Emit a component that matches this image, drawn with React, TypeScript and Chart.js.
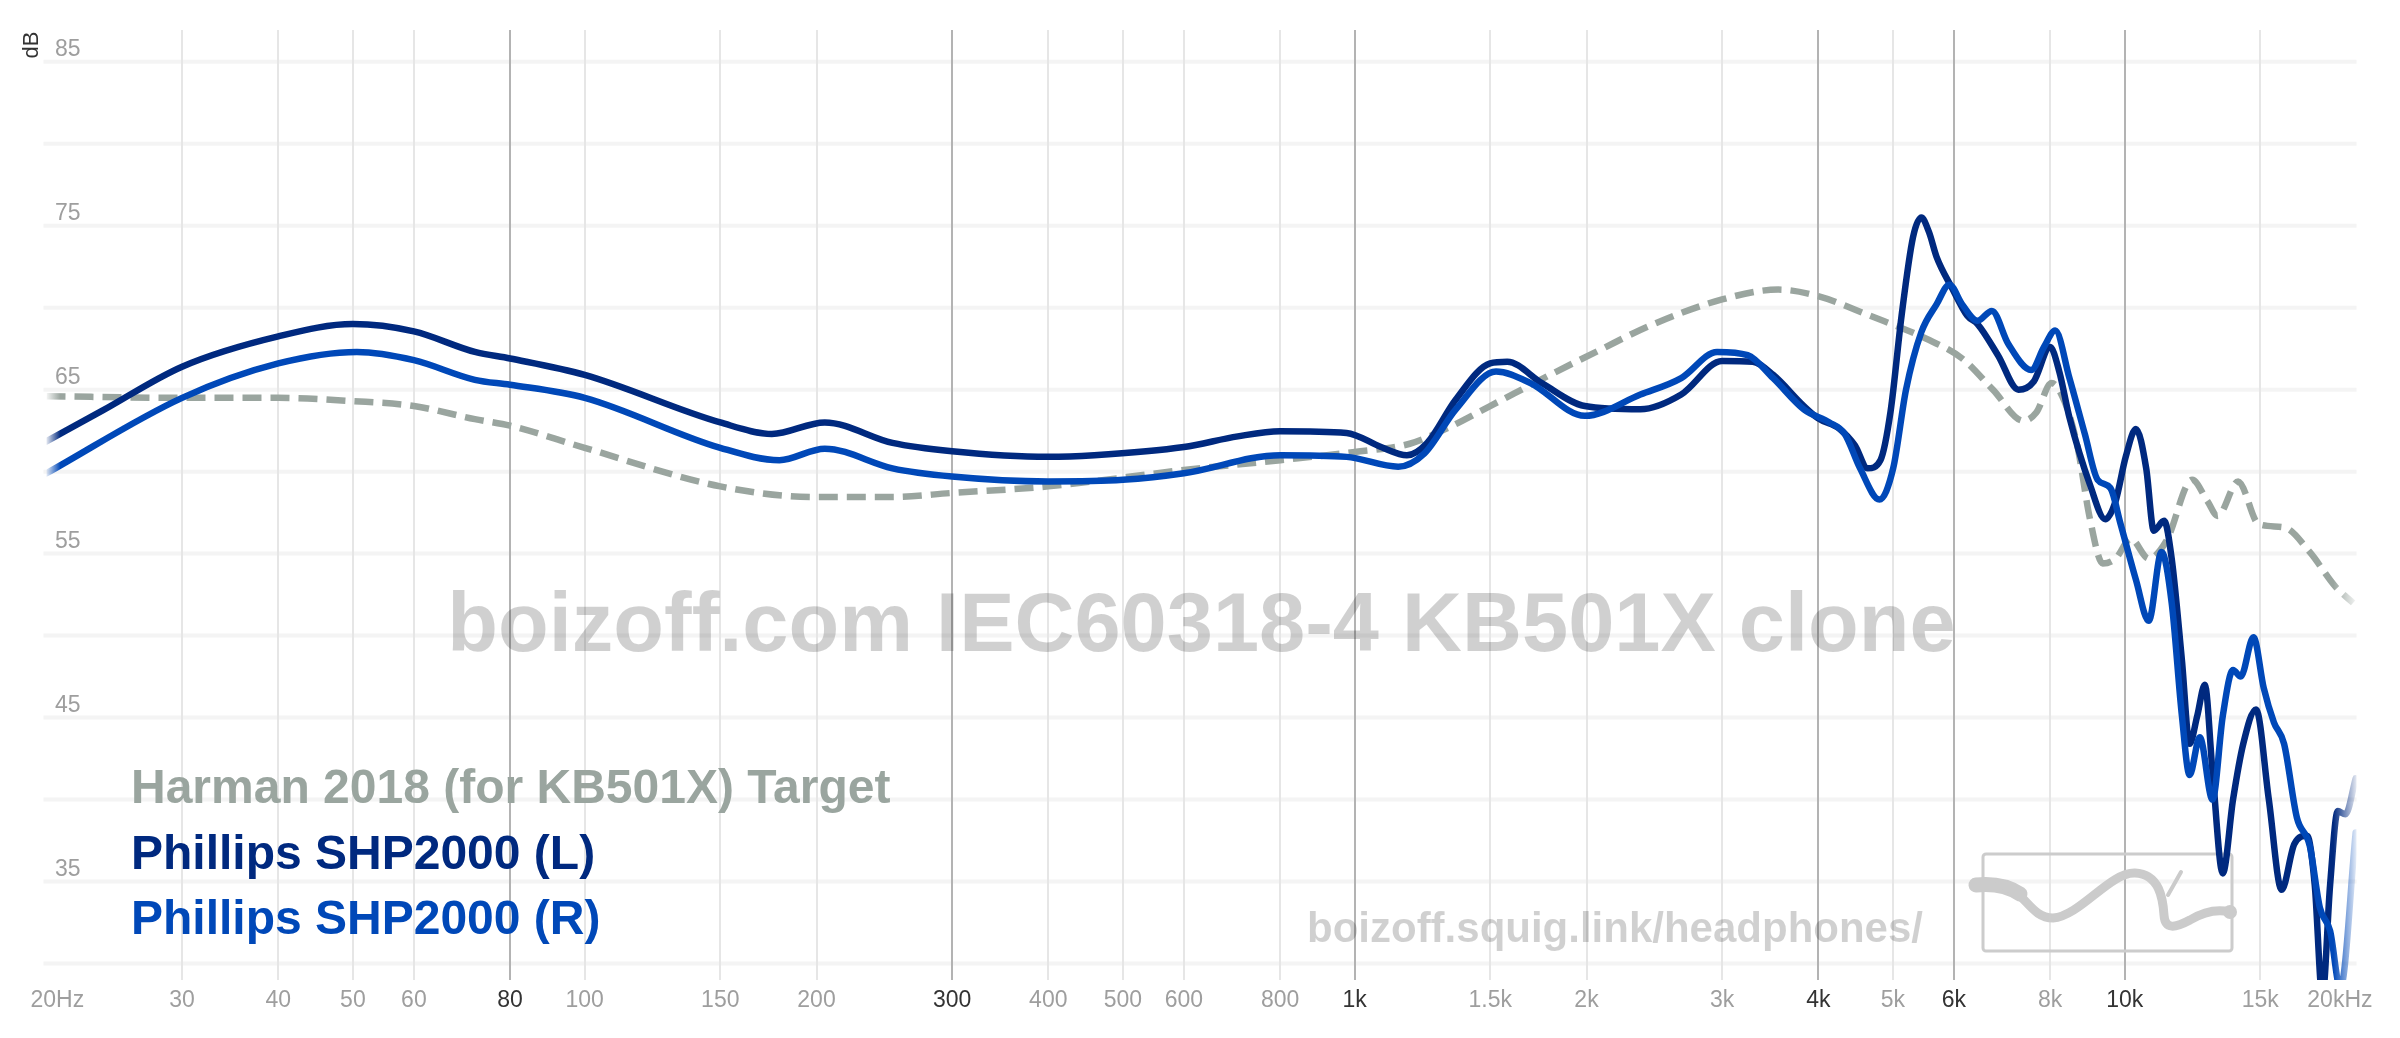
import { useEffect, useRef } from 'react';
import { Chart, registerables } from 'chart.js';

Chart.register(...registerables);

// Harman 2018 (for KB501X) target
const freqTarget = [20, 30, 40, 50, 60, 72, 80, 100, 150, 200, 251, 300, 400, 600, 801, 1000, 1179, 1307, 1499, 1811, 2078, 2417, 3000, 3549, 3998, 4672, 5527, 6151, 6742, 7389, 7677, 8037, 8348, 8676, 9014, 9365, 9730, 10185, 10745, 11335, 12234, 12806, 13205, 14039, 14925, 16106, 17386, 18766, 19799];
const dbTarget = [64.6, 64.5, 64.5, 64.3, 64.0, 63.2, 62.8, 61.45, 59.1, 58.45, 58.45, 58.7, 59.1, 60.1, 60.7, 61.2, 61.7, 62.56, 64.0, 66.0, 67.4, 68.9, 70.5, 71.1, 70.7, 69.5, 68.1, 66.9, 65.0, 63.1, 63.6, 65.4, 64.3, 61.6, 57.1, 54.4, 54.7, 55.9, 54.7, 55.8, 59.5, 58.2, 57.3, 59.4, 56.8, 56.6, 55.1, 53.0, 52.0];

// Phillips SHP2000 left channel
const freqL = [20, 23.6, 30, 40, 50, 60, 72, 80, 100, 150, 175, 205, 251, 300, 400, 459, 600, 705, 800, 976, 1082, 1169, 1242, 1353, 1499, 1578, 1750, 1990, 2350, 2655, 3000, 3288, 3495, 3831, 3998, 4263, 4463, 4636, 4817, 4966, 5131, 5310, 5443, 5570, 5697, 5966, 6246, 6440, 6845, 7278, 7619, 8000, 8223, 8477, 9014, 9436, 9730, 10030, 10342, 10664, 10910, 11249, 11508, 11866, 12141, 12421, 12708, 13003, 13408, 13826, 14254, 14810, 15388, 15988, 16607, 17254, 17652, 18062, 18482, 18910, 19350, 19953];
const dbL = [61.85, 63.7, 66.4, 68.25, 69.0, 68.55, 67.3, 66.9, 65.9, 63.0, 62.3, 63.0, 61.75, 61.24, 60.9, 61.0, 61.5, 62.15, 62.46, 62.36, 61.5, 61.0, 61.75, 64.4, 66.6, 66.7, 65.4, 64.0, 63.8, 64.7, 66.75, 66.7, 65.9, 64.0, 63.25, 62.6, 61.6, 60.2, 60.7, 63.7, 69.5, 74.3, 75.5, 74.6, 73.1, 71.2, 69.5, 69.0, 67.1, 65.0, 65.5, 67.6, 66.1, 63.3, 59.2, 57.1, 58.2, 60.9, 62.6, 60.2, 56.4, 57.0, 54.7, 48.5, 43.4, 45.1, 47.0, 41.7, 35.5, 40.0, 43.4, 45.5, 40.0, 34.5, 37.3, 37.8, 34.8, 28.0, 34.8, 39.3, 39.1, 41.3];

// Phillips SHP2000 right channel
const freqR = [20, 30, 40, 50.6, 60, 72, 80, 100, 150, 179, 205, 251, 300, 400, 500, 600, 801, 976, 1139, 1231, 1353, 1526, 1691, 1990, 2350, 2655, 2955, 3238, 3495, 3831, 4135, 4329, 4532, 4802, 5004, 5200, 5443, 5697, 5920, 6151, 6440, 6722, 7058, 7561, 7855, 8124, 8477, 8875, 9222, 9581, 9878, 10342, 10745, 11164, 11508, 11866, 12141, 12516, 13003, 13408, 13826, 14146, 14698, 15155, 15626, 16106, 16734, 17386, 17926, 18482, 19055, 19953];
const dbR = [59.9, 64.5, 66.6, 67.3, 66.8, 65.6, 65.3, 64.5, 61.45, 60.7, 61.4, 60.2, 59.7, 59.4, 59.5, 59.9, 61.0, 60.9, 60.3, 61.1, 63.8, 66.1, 65.4, 63.4, 64.7, 65.7, 67.3, 67.1, 65.7, 63.8, 63.0, 62.3, 60.2, 58.3, 60.2, 65.0, 68.5, 70.2, 71.4, 70.2, 69.2, 69.8, 67.8, 66.2, 67.6, 68.6, 65.7, 62.3, 59.5, 59.0, 56.8, 53.4, 50.9, 55.1, 52.0, 45.1, 41.5, 43.8, 40.0, 45.1, 47.9, 47.5, 49.9, 46.8, 44.7, 43.4, 38.9, 37.2, 33.4, 32.0, 28.5, 38.0];

const xTicks = [20, 30, 40, 50, 60, 80, 100, 150, 200, 300, 400, 500, 600, 800, 1000, 1500, 2000, 3000, 4000, 5000, 6000, 8000, 10000, 15000, 20000];
const xTickLabels = ['20Hz', '30', '40', '50', '60', '80', '100', '150', '200', '300', '400', '500', '600', '800', '1k', '1.5k', '2k', '3k', '4k', '5k', '6k', '8k', '10k', '15k', '20kHz'];
const xMajor = [80, 300, 1000, 4000, 6000, 10000];
const yGrid = [30, 35, 40, 45, 50, 55, 60, 65, 70, 75, 80, 85];
const yLabels = [35, 45, 55, 65, 75, 85];

const seriesNames = ['Harman 2018 (for KB501X) Target', 'Phillips SHP2000 (L)', 'Phillips SHP2000 (R)'];
const seriesRgb = ['154,165,159', '0,41,127', '0,72,184'];

const FONT = "'Liberation Sans', Arial, sans-serif";

const toPoints = (fs: number[], ds: number[]) => fs.map((f, i) => ({ x: f, y: ds[i] }));

// line colour that fades out at both ends of the plot
const fade = (rgb: string) => (c: any) => {
  const area = c.chart.chartArea;
  if (!area) return `rgb(${rgb})`;
  const g = c.chart.ctx.createLinearGradient(area.left, 0, area.right, 0);
  g.addColorStop(0, `rgba(${rgb},0.1)`);
  g.addColorStop(0.006, `rgb(${rgb})`);
  g.addColorStop(0.99, `rgb(${rgb})`);
  g.addColorStop(1, `rgba(${rgb},0.1)`);
  return g;
};

const drawLogo = (ctx: CanvasRenderingContext2D) => {
  ctx.strokeStyle = '#cccccc';
  ctx.lineWidth = 3;
  ctx.beginPath();
  ctx.roundRect(1983, 854, 249, 97, 3);
  ctx.stroke();

  ctx.strokeStyle = '#cbcbcb';
  ctx.fillStyle = '#cbcbcb';
  ctx.lineCap = 'round';
  ctx.lineJoin = 'round';
  // thick start
  ctx.lineWidth = 15;
  ctx.beginPath();
  ctx.moveTo(1976, 885);
  ctx.bezierCurveTo(1995, 883, 2008, 886, 2020, 894);
  ctx.stroke();
  // body
  ctx.lineWidth = 9;
  ctx.beginPath();
  ctx.moveTo(2000, 884);
  ctx.bezierCurveTo(2025, 890, 2030, 918, 2053, 918);
  ctx.bezierCurveTo(2080, 916, 2110, 872, 2135, 873);
  ctx.bezierCurveTo(2160, 874, 2163, 900, 2164, 915);
  ctx.bezierCurveTo(2165, 930, 2175, 928, 2190, 920);
  ctx.bezierCurveTo(2205, 911, 2218, 909, 2230, 912);
  ctx.stroke();
  ctx.beginPath();
  ctx.arc(2230, 912, 7, 0, Math.PI * 2);
  ctx.fill();
  // thin flick
  ctx.lineWidth = 4;
  ctx.beginPath();
  ctx.moveTo(2168, 895);
  ctx.lineTo(2181, 872);
  ctx.stroke();
};

const backdrop = {
  id: 'backdrop',
  beforeDatasetsDraw(chart: any) {
    const { ctx, chartArea: a, scales } = chart;
    const x = scales.x;
    const y = scales.y;
    ctx.save();

    // horizontal grid
    ctx.lineCap = 'butt';
    ctx.strokeStyle = '#f4f4f4';
    ctx.lineWidth = 4;
    yGrid.forEach((v) => {
      const py = y.getPixelForValue(v);
      ctx.beginPath();
      ctx.moveTo(a.left - 3, py);
      ctx.lineTo(a.right, py);
      ctx.stroke();
    });

    // vertical grid
    ctx.lineWidth = 2;
    xTicks.forEach((f) => {
      if (f === 20 || f === 20000) return;
      const px = Math.round(x.getPixelForValue(f));
      ctx.strokeStyle = xMajor.includes(f) ? '#b3b3b3' : '#e6e6e6';
      ctx.beginPath();
      ctx.moveTo(px, a.top);
      ctx.lineTo(px, a.bottom);
      ctx.stroke();
    });

    // watermarks (translucent, so the grid shows through)
    ctx.fillStyle = 'rgba(0,0,0,0.185)';
    ctx.font = `bold 83px ${FONT}`;
    ctx.textAlign = 'center';
    ctx.textBaseline = 'alphabetic';
    ctx.fillText('boizoff.com IEC60318-4 KB501X clone', (a.left + a.right) / 2, 651);
    ctx.font = `bold 42px ${FONT}`;
    ctx.textAlign = 'left';
    ctx.fillText('boizoff.squig.link/headphones/', 1307, 942);
    drawLogo(ctx);

    // y labels
    ctx.fillStyle = '#9e9e9e';
    ctx.font = `23px ${FONT}`;
    ctx.textAlign = 'left';
    yLabels.forEach((v) => {
      ctx.fillText(String(v), 55, y.getPixelForValue(v) - 6);
    });

    // x labels
    xTicks.forEach((f, i) => {
      let px = x.getPixelForValue(f);
      ctx.textAlign = 'center';
      if (i === 0) { ctx.textAlign = 'left'; px -= 16; }
      if (i === xTicks.length - 1) { ctx.textAlign = 'right'; px += 16; }
      ctx.fillStyle = xMajor.includes(f) ? '#333333' : '#9e9e9e';
      ctx.fillText(xTickLabels[i], px, 1007);
    });

    // dB axis title
    ctx.fillStyle = '#333333';
    ctx.font = `22px ${FONT}`;
    ctx.translate(38, 45);
    ctx.rotate(-Math.PI / 2);
    ctx.textAlign = 'center';
    ctx.fillText('dB', 0, 0);
    ctx.restore();
  },
  afterDatasetsDraw(chart: any) {
    const { ctx } = chart;
    ctx.save();
    ctx.font = `bold 48px ${FONT}`;
    ctx.textAlign = 'left';
    ctx.textBaseline = 'alphabetic';
    seriesNames.forEach((name, i) => {
      ctx.fillStyle = `rgb(${seriesRgb[i]})`;
      ctx.fillText(name, 131, 803 + i * 65.6);
    });
    ctx.restore();
  },
};

export default function App() {
  const canvasRef = useRef<HTMLCanvasElement>(null);

  useEffect(() => {
    if (!canvasRef.current) return;

    const chart = new Chart(canvasRef.current, {
      type: 'line',
      data: {
        datasets: [
          {
            label: seriesNames[2],
            data: toPoints(freqR, dbR),
            borderColor: fade(seriesRgb[2]),
            borderWidth: 6.5,
            order: 0,
          },
          {
            label: seriesNames[1],
            data: toPoints(freqL, dbL),
            borderColor: fade(seriesRgb[1]),
            borderWidth: 6.5,
            order: 1,
          },
          {
            label: seriesNames[0],
            data: toPoints(freqTarget, dbTarget),
            borderColor: fade(seriesRgb[0]),
            borderWidth: 6.5,
            borderDash: [19, 9],
            borderCapStyle: 'butt',
            order: 2,
          },
        ] as any,
      },
      options: {
        responsive: false,
        animation: false,
        devicePixelRatio: 1,
        layout: { padding: { left: 46.5, right: 43.5, top: 30, bottom: 58 } },
        plugins: { legend: { display: false }, tooltip: { enabled: false } },
        elements: {
          point: { radius: 0 },
          line: { cubicInterpolationMode: 'monotone', borderJoinStyle: 'round', borderCapStyle: 'round' },
        },
        scales: {
          x: { type: 'logarithmic', min: 20, max: 20000, display: false },
          y: { type: 'linear', min: 29, max: 86.93, display: false },
        },
      },
      plugins: [backdrop],
    });

    return () => {
      chart.destroy();
    };
  }, []);

  return (
    <div style={{ position: 'absolute', left: 0, top: 0, width: 2400, height: 1038, background: '#fff' }}>
      <canvas ref={canvasRef} width={2400} height={1038} style={{ width: 2400, height: 1038 }} />
    </div>
  );
}
